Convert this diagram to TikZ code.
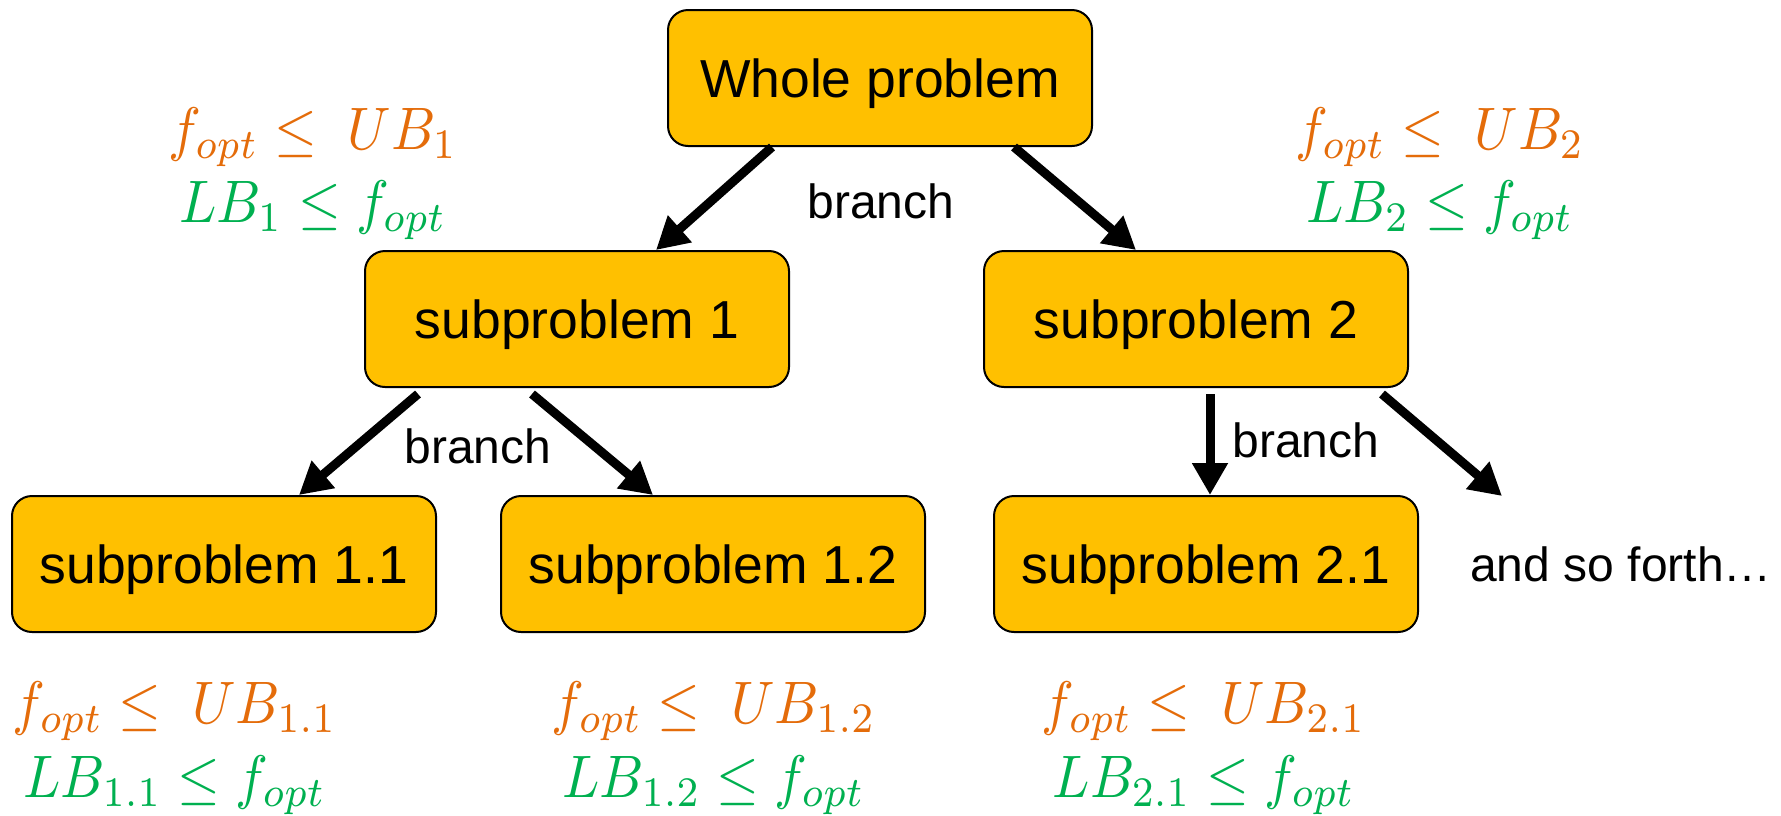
\documentclass[tikz,border=0pt]{standalone}
\usepackage{fontspec}
\usepackage{graphicx}
\setmainfont{Liberation Sans}
\usetikzlibrary{arrows.meta}
\definecolor{boxfill}{HTML}{FFC000}
\definecolor{ubcol}{HTML}{E46C0A}
\definecolor{lbcol}{HTML}{00B050}
\newcommand{\bndmath}[1]{\scalebox{5.5}[6]{$#1$}}
\tikzset{
  probbox/.style={draw=black, line width=2pt, fill=boxfill, rounded corners=20pt,
    minimum width=424pt, minimum height=136pt, inner sep=0pt, text depth=0pt,
    font=\fontsize{53.5}{60}\selectfont},
  arr/.style={line width=9pt, -{Triangle[length=32pt,width=34pt]}},
  lbl/.style={font=\fontsize{48}{56}\selectfont, inner sep=0pt},
  ub/.style={text=ubcol, inner sep=0pt, anchor=base},
  lb/.style={text=lbcol, inner sep=0pt, anchor=base}
}
\begin{document}
\begin{tikzpicture}[x=1pt,y=-1pt]
\useasboundingbox (0,0) rectangle (1781,815);
\node[probbox] (W) at (880,78) {Whole problem};
\node[probbox] (S1) at (577,319) {subproblem 1};
\node[probbox] (S2) at (1196,319) {subproblem 2};
\node[probbox] (S11) at (224,564) {subproblem 1.1};
\node[probbox] (S12) at (713,564) {subproblem 1.2};
\node[probbox] (S21) at (1206,564) {subproblem 2.1};
\coordinate (F) at (1502,496);

\draw[arr] ([xshift=-108pt]W.south) -- ([xshift=79pt]S1.north);
\draw[arr] ([xshift=134pt]W.south) -- ([xshift=-60pt]S2.north);
\draw[arr] ([xshift=-159pt,yshift=-6pt]S1.south) -- ([xshift=75pt]S11.north);
\draw[arr] ([xshift=-45pt,yshift=-6pt]S1.south) -- ([xshift=-60pt]S12.north);
\draw[arr] ([xshift=14pt,yshift=-6pt]S2.south) -- ([xshift=14pt]S2.south |- S21.north);
\draw[arr] ([xshift=186pt,yshift=-6pt]S2.south) -- (F);

\node[lbl] (b1) at (881,201) {branch};
\node[lbl] (b2) at (478,446) {branch};
\node[lbl] (b3) at (1306,440) {branch};
\node[lbl] (forth) at (1621,564) {and so forth…};

\node[ub] (u1) at (313,149) {\bndmath{f_{opt} \leq\ UB_1}};
\node[lb] (l1) at (313,222) {\bndmath{LB_1 \leq f_{opt}}};
\node[ub] (u2) at (1440,149) {\bndmath{f_{opt} \leq\ UB_2}};
\node[lb] (l2) at (1440,222) {\bndmath{LB_2 \leq f_{opt}}};
\node[ub] (u11) at (175,723) {\bndmath{f_{opt} \leq\ UB_{1.1}}};
\node[lb] (l11) at (175,797) {\bndmath{LB_{1.1} \leq f_{opt}}};
\node[ub] (u12) at (714,723) {\bndmath{f_{opt} \leq\ UB_{1.2}}};
\node[lb] (l12) at (714,797) {\bndmath{LB_{1.2} \leq f_{opt}}};
\node[ub] (u21) at (1204,723) {\bndmath{f_{opt} \leq\ UB_{2.1}}};
\node[lb] (l21) at (1204,797) {\bndmath{LB_{2.1} \leq f_{opt}}};
\end{tikzpicture}
\end{document}
